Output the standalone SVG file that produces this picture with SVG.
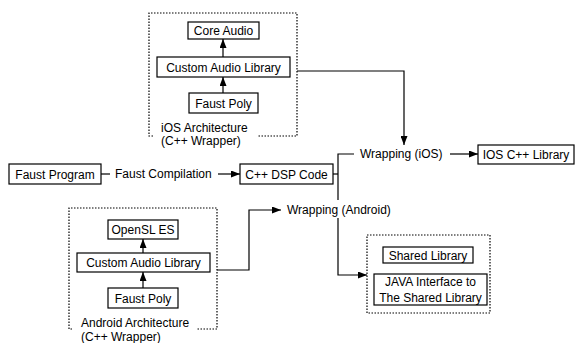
<svg xmlns="http://www.w3.org/2000/svg" width="576" height="343" viewBox="0 0 576 343">
<style>
.box{fill:#fff;stroke:#000;stroke-width:1.2}
.dash{fill:none;stroke:#000;stroke-width:1.2;stroke-dasharray:1.5 1.5}
.ln{fill:none;stroke:#000;stroke-width:1.2}
text{font-family:"Liberation Sans",Arial,sans-serif;font-size:12px;fill:#000}
.c{text-anchor:middle}
</style>
<defs>
<marker id="ah" markerWidth="9" markerHeight="7" refX="9" refY="3.5" orient="auto" markerUnits="userSpaceOnUse">
<path d="M0,0 L9,3.5 L0,7 z" fill="#000"/>
</marker>
</defs>
<rect width="576" height="343" fill="#fff"/>
<g id="ios-arch">
<path class="dash" d="M153,136 L149,136 L149,13 L297,13 L297,136 L258,136"/>
<text x="161" y="132">iOS Architecture</text>
<text x="161" y="145">(C++ Wrapper)</text>
</g>
<g id="core-audio"><rect class="box" x="188" y="22" width="71" height="17"/><text class="c" x="223.5" y="35">Core Audio</text></g>
<g id="ios-custom"><rect class="box" x="157" y="57" width="133" height="20"/><text class="c" x="223.5" y="71.5">Custom Audio Library</text></g>
<g id="ios-faust-poly"><rect class="box" x="189" y="93" width="69" height="20"/><text class="c" x="223.5" y="107.5">Faust Poly</text></g>
<g id="android-arch">
<path class="dash" d="M72,329 L69,329 L69,208 L217,208 L217,329 L197,329"/>
<text x="81" y="327">Android Architecture</text>
<text x="81" y="341">(C++ Wrapper)</text>
</g>
<g id="opensl"><rect class="box" x="108" y="220" width="70" height="19"/><text class="c" x="143" y="234">OpenSL ES</text></g>
<g id="android-custom"><rect class="box" x="77" y="253" width="133" height="19"/><text class="c" x="143.5" y="267">Custom Audio Library</text></g>
<g id="android-faust-poly"><rect class="box" x="108" y="288" width="70" height="20"/><text class="c" x="143" y="302.5">Faust Poly</text></g>
<g id="faust-program"><rect class="box" x="9" y="164" width="92" height="20"/><text class="c" x="55" y="178.5">Faust Program</text></g>
<g id="faust-compilation"><text x="115" y="178">Faust Compilation</text></g>
<g id="cpp-dsp"><rect class="box" x="240" y="164" width="93" height="20"/><text class="c" x="286.5" y="178.5">C++ DSP Code</text></g>
<g id="wrapping-ios"><text x="360" y="158">Wrapping (iOS)</text></g>
<g id="ios-lib"><rect class="box" x="478" y="145" width="96" height="19"/><text class="c" x="526" y="159">IOS C++ Library</text></g>
<g id="wrapping-android"><text x="287" y="213.5">Wrapping (Android)</text></g>
<g id="android-out">
<path class="dash" d="M367,235 L490,235 L490,313 L367,313 Z"/>
</g>
<g id="shared-lib"><rect class="box" x="383" y="247" width="90" height="16"/><text class="c" x="428" y="259.5">Shared Library</text></g>
<g id="java-if"><rect class="box" x="374" y="274" width="113" height="31"/><text class="c" x="430.5" y="286">JAVA Interface to</text><text class="c" x="430.5" y="301.5">The Shared Library</text></g>
<g id="connectors">
<line class="ln" x1="223" y1="57" x2="223" y2="39" marker-end="url(#ah)"/>
<line class="ln" x1="223" y1="93" x2="223" y2="77" marker-end="url(#ah)"/>
<line class="ln" x1="143" y1="253" x2="143" y2="239" marker-end="url(#ah)"/>
<line class="ln" x1="143" y1="288" x2="143" y2="272" marker-end="url(#ah)"/>
<polyline class="ln" points="297,71 404,71 404,145" marker-end="url(#ah)"/>
<line class="ln" x1="101" y1="174" x2="110" y2="174"/>
<line class="ln" x1="218" y1="174" x2="240" y2="174" marker-end="url(#ah)"/>
<line class="ln" x1="333" y1="174" x2="338" y2="174"/>
<polyline class="ln" points="338,200 338,154 354,154"/>
<line class="ln" x1="450" y1="154" x2="478" y2="154" marker-end="url(#ah)"/>
<polyline class="ln" points="217,270 249,270 249,210 281,210" marker-end="url(#ah)"/>
<polyline class="ln" points="338,218 338,275 367,275" marker-end="url(#ah)"/>
</g>
</svg>
